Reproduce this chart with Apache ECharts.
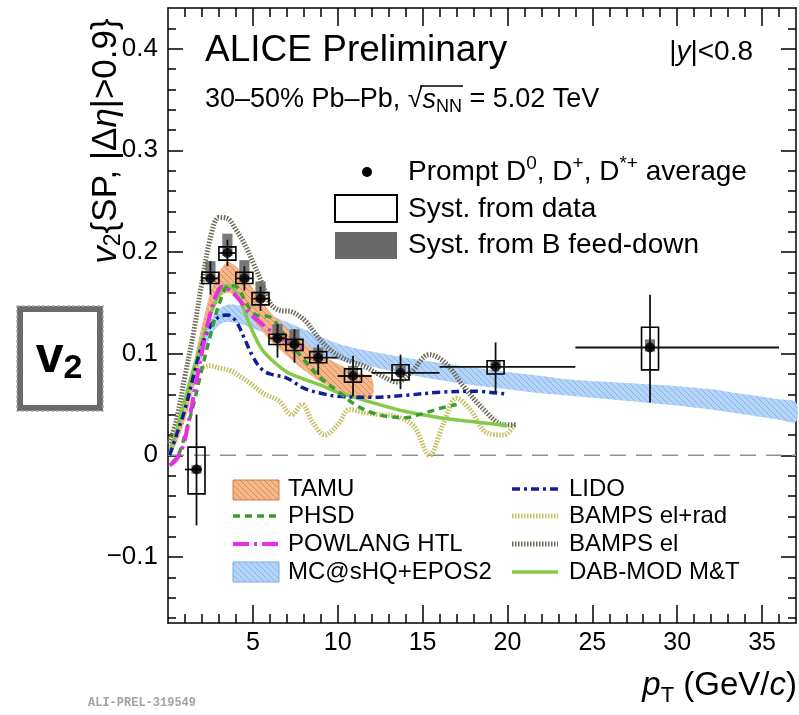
<!DOCTYPE html>
<html>
<head>
<meta charset="utf-8">
<script src="https://cdn.jsdelivr.net/npm/echarts@6/dist/echarts.min.js"></script>
<style>
  html, body { margin: 0; padding: 0; background: #fff; }
  #main { width: 799px; height: 715px; }
</style>
</head>
<body>
<div id="main"></div>
<script>
var ptData   = [1.68, 2.5, 3.5, 4.5, 5.45, 6.45, 7.45, 8.85, 10.9, 13.7, 19.3, 28.4];
var v2Data   = [-0.014, 0.174, 0.199, 0.174, 0.154, 0.115, 0.109, 0.096, 0.078, 0.081, 0.087, 0.106];
var ptLow    = [1, 2, 3, 4, 5, 6, 7, 8, 10, 12, 16, 24];
var ptHigh   = [2, 3, 4, 5, 6, 7, 8, 10, 12, 16, 24, 36];
var statLow  = [-0.069, 0.158, 0.186, 0.162, 0.142, 0.096, 0.091, 0.079, 0.058, 0.065, 0.062, 0.052];
var statHigh = [0.040, 0.191, 0.212, 0.186, 0.166, 0.129, 0.124, 0.109, 0.098, 0.099, 0.111, 0.158];
var systLow  = [-0.038, 0.169, 0.192, 0.169, 0.148, 0.109, 0.103, 0.091, 0.072, 0.074, 0.080, 0.084];
var systHigh = [0.008, 0.180, 0.205, 0.180, 0.160, 0.119, 0.114, 0.102, 0.085, 0.089, 0.093, 0.126];
var feedLow  = [-0.018, 0.171, 0.196, 0.171, 0.151, 0.112, 0.106, 0.093, 0.076, 0.079, 0.085, 0.102];
var feedHigh = [-0.010, 0.191, 0.218, 0.192, 0.171, 0.129, 0.124, 0.106, 0.088, 0.088, 0.093, 0.114];

// ---- model bands ----
var tamuPt = [0.1, 0.5, 1, 1.5, 2, 2.5, 3, 3.5, 4, 4.5, 5, 5.5, 6, 7, 8, 9, 10, 11, 12];
var tamuLo = [0.0, 0.012, 0.035, 0.068, 0.105, 0.138, 0.155, 0.160, 0.156, 0.146, 0.134, 0.123, 0.113, 0.098, 0.084, 0.072, 0.064, 0.058, 0.056];
var tamuHi = [0.010, 0.025, 0.055, 0.090, 0.128, 0.160, 0.180, 0.190, 0.186, 0.176, 0.164, 0.152, 0.141, 0.125, 0.111, 0.099, 0.090, 0.082, 0.076];

var mcPt = [0.1, 0.5, 1, 1.5, 2, 2.5, 3, 3.5, 4, 5, 6, 7, 8, 10, 12, 14, 16, 18, 20, 22, 24, 26, 28, 30, 32, 34, 36, 37];
var mcLo = [0.0, 0.012, 0.035, 0.065, 0.095, 0.117, 0.128, 0.131, 0.130, 0.125, 0.118, 0.110, 0.103, 0.094, 0.087, 0.080, 0.074, 0.069, 0.065, 0.061, 0.058, 0.055, 0.052, 0.049, 0.045, 0.040, 0.035, 0.033];
var mcHi = [0.010, 0.025, 0.052, 0.083, 0.112, 0.133, 0.144, 0.148, 0.148, 0.144, 0.138, 0.131, 0.124, 0.110, 0.102, 0.096, 0.091, 0.086, 0.082, 0.078, 0.074, 0.072, 0.070, 0.068, 0.065, 0.060, 0.055, 0.052];

// ---- model curves ----
var phsdPt = [0.2, 0.6, 1, 1.5, 2, 2.5, 3, 3.6, 4.1, 4.6, 5.2, 6, 7, 8, 9, 10, 11, 12, 13, 14, 15, 16, 17];
var phsdV  = [-0.008, 0.0, 0.020, 0.050, 0.085, 0.118, 0.148, 0.167, 0.165, 0.150, 0.138, 0.136, 0.115, 0.094, 0.076, 0.063, 0.050, 0.042, 0.038, 0.037, 0.041, 0.046, 0.050];

var powPt = [0.1, 0.5, 0.9, 1.3, 1.7, 2.1, 2.5, 2.9, 3.2, 3.6, 4.2, 4.8, 5.4, 6, 6.6, 7.2, 8];
var powV  = [-0.010, -0.004, 0.010, 0.040, 0.075, 0.110, 0.140, 0.160, 0.166, 0.163, 0.153, 0.140, 0.131, 0.123, 0.116, 0.110, 0.105];

var lidoPt = [0.1, 0.5, 1, 1.5, 2, 2.5, 3, 3.5, 4, 4.5, 5, 5.5, 6, 7, 8, 9, 10, 12, 14, 16, 18, 20];
var lidoV  = [0.0, 0.020, 0.045, 0.078, 0.108, 0.127, 0.136, 0.138, 0.132, 0.115, 0.097, 0.085, 0.080, 0.076, 0.066, 0.061, 0.058, 0.057, 0.059, 0.062, 0.063, 0.060];

var dabPt = [0.1, 0.5, 1, 1.5, 2, 2.5, 3, 3.4, 3.8, 4.3, 4.9, 5.5, 6.1, 7, 8, 9, 10, 11, 12, 14, 16, 18, 20];
var dabV  = [0.0, 0.025, 0.055, 0.085, 0.112, 0.138, 0.158, 0.167, 0.165, 0.150, 0.125, 0.105, 0.094, 0.082, 0.075, 0.069, 0.062, 0.057, 0.052, 0.043, 0.037, 0.033, 0.029];

var belPt = [0.1, 0.5, 1, 1.5, 2, 2.5, 3, 3.5, 4, 4.5, 5, 5.5, 6, 6.5, 7.3, 8.1, 8.9, 9.7, 10.5, 11.5, 12.5, 13.5, 14.3, 15.4, 16.4, 17.4, 18.6, 19.8, 20.5];
var belV  = [0.012, 0.035, 0.078, 0.120, 0.170, 0.214, 0.234, 0.233, 0.222, 0.208, 0.190, 0.171, 0.150, 0.143, 0.141, 0.132, 0.115, 0.102, 0.094, 0.088, 0.079, 0.072, 0.081, 0.099, 0.090, 0.068, 0.045, 0.030, 0.030];

var berPt = [0.1, 0.5, 1, 1.5, 2, 2.5, 3, 3.7, 4.3, 4.9, 5.7, 6.5, 7.3, 7.9, 8.5, 9.25, 10, 10.7, 11.5, 12.5, 13.5, 14.5, 15.4, 16.2, 17, 17.8, 18.8, 19.8, 20.4];
var berV  = [0.012, 0.030, 0.055, 0.075, 0.086, 0.088, 0.086, 0.083, 0.077, 0.070, 0.060, 0.054, 0.040, 0.050, 0.033, 0.020, 0.030, 0.045, 0.042, 0.040, 0.038, 0.028, 0.0, 0.030, 0.056, 0.045, 0.022, 0.020, 0.030];

// ---- axis ticks ----
var xMajor = [5, 10, 15, 20, 25, 30, 35];
var yMajor = [-0.1, 0, 0.1, 0.2, 0.3, 0.4];
var xMinor = [];
for (var i = 1; i <= 36; i++) { if (i % 5 !== 0) xMinor.push(i); }
var yMinor = [];
for (var k = -8; k <= 21; k++) { if (k % 5 !== 0) yMinor.push(+(k * 0.02).toFixed(2)); }

var FONT = '"Liberation Sans", Arial, Helvetica, sans-serif';
var BOX_HALF = 0.5;    // half width of syst. boxes (GeV/c)
var FEED_HALF = 0.3;

function hatch(bg, fg) {
  var c = document.createElement('canvas');
  c.width = 6; c.height = 6;
  var g = c.getContext('2d');
  g.fillStyle = bg; g.fillRect(0, 0, 6, 6);
  g.strokeStyle = fg; g.lineWidth = 1;
  g.beginPath();
  g.moveTo(-3, 3); g.lineTo(3, 9);
  g.moveTo(0, 0); g.lineTo(6, 6);
  g.moveTo(3, -3); g.lineTo(9, 3);
  g.stroke();
  return c;
}
var tamuFill = { image: hatch('#f2b88c', '#e38a55'), repeat: 'repeat' };
var mcFill = { image: hatch('#b4d3f7', '#86b6ee'), repeat: 'repeat' };

var chart = echarts.init(document.getElementById('main'));

function bandSeries(xs, lo, hi, fill, z) {
  return {
    type: 'custom', silent: true, z: z,
    data: [[xs[0], lo[0]]],
    renderItem: function (params, api) {
      var pts = [];
      for (var j = 0; j < xs.length; j++) pts.push(api.coord([xs[j], lo[j]]));
      for (var j2 = xs.length - 1; j2 >= 0; j2--) pts.push(api.coord([xs[j2], hi[j2]]));
      return { type: 'polygon', shape: { points: pts, smooth: 0.3 }, style: { fill: fill } };
    }
  };
}

function curve(name, xs, ys, color, width, dash, z) {
  return {
    name: name, type: 'line', showSymbol: false, smooth: 0.35, z: z, silent: true,
    data: xs.map(function (x, j) { return [x, ys[j]]; }),
    lineStyle: { color: color, width: width, type: dash }
  };
}

var idxData = ptData.map(function (p, j) { return [p, v2Data[j], j]; });

function xAx(grid, pos, ticks, len, labels, line) {
  return {
    type: 'value', min: 0, max: 37, gridIndex: grid, position: pos,
    splitLine: { show: false },
    axisLine: { show: line, onZero: false, lineStyle: { color: '#000', width: 1.5 } },
    axisTick: { inside: true, length: len, customValues: ticks, lineStyle: { color: '#000', width: 1.5 } },
    axisLabel: labels ? { customValues: ticks, fontSize: 25, color: '#000', fontFamily: FONT, margin: 8 } : { show: false }
  };
}
function yAx(grid, pos, ticks, len, labels, line) {
  return {
    type: 'value', min: -0.165, max: 0.44, gridIndex: grid, position: pos,
    splitLine: { show: false },
    axisLine: { show: line, onZero: false, lineStyle: { color: '#000', width: 1.5 } },
    axisTick: { inside: true, length: len, customValues: ticks, lineStyle: { color: '#000', width: 1.5 } },
    axisLabel: labels ? {
      customValues: ticks, fontSize: 26, color: '#000', fontFamily: FONT, margin: 10,
      formatter: function (v) { return v < 0 ? '\u2212' + (-v) : String(v); }
    } : { show: false }
  };
}

function label(x, y, text, size) {
  return { type: 'text', x: x, y: y, z: 20,
    style: { text: text, verticalAlign: 'middle', fontFamily: FONT, fontSize: size, fill: '#000' } };
}

var option = {
  animation: false,
  backgroundColor: '#fff',
  grid: [
    { left: 168, right: 3, top: 8, bottom: 92 },
    { left: 168, right: 3, top: 8, bottom: 92 }
  ],
  xAxis: [
    xAx(0, 'bottom', xMajor, 18, true, true),
    xAx(0, 'top', xMajor, 18, false, true),
    xAx(1, 'bottom', xMinor, 9, false, false),
    xAx(1, 'top', xMinor, 9, false, false)
  ],
  yAxis: [
    yAx(0, 'left', yMajor, 15, true, true),
    yAx(0, 'right', yMajor, 15, false, true),
    yAx(1, 'left', yMinor, 8, false, false),
    yAx(1, 'right', yMinor, 8, false, false)
  ],
  series: [
    bandSeries(mcPt, mcLo, mcHi, mcFill, 1),
    bandSeries(tamuPt, tamuLo, tamuHi, tamuFill, 2),
    {
      type: 'line', silent: true, z: 2, showSymbol: false,
      data: [[0, 0], [37, 0]],
      lineStyle: { color: '#8f8f8f', width: 1.6, type: [16, 10] }
    },
    curve('BAMPS el+rad', berPt, berV, '#c4bf5f', 5, [1.5, 1.5], 3),
    curve('BAMPS el', belPt, belV, '#6d6b58', 5, [1.5, 1.5], 3),
    curve('DAB-MOD M&T', dabPt, dabV, '#86c84a', 3.5, 'solid', 4),
    curve('LIDO', lidoPt, lidoV, '#10209a', 3.5, [8, 4, 3, 4], 4),
    curve('PHSD', phsdPt, phsdV, '#3c9c32', 3.5, [7, 5], 4),
    curve('POWLANG HTL', powPt, powV, '#e62ee6', 4, [16, 5, 3, 5], 4),
    {
      type: 'custom', z: 6, silent: true, data: idxData,
      renderItem: function (params, api) {
        var j = api.value(2);
        var a = api.coord([ptData[j] - FEED_HALF, feedHigh[j]]);
        var b = api.coord([ptData[j] + FEED_HALF, feedLow[j]]);
        return { type: 'rect', shape: { x: a[0], y: a[1], width: b[0] - a[0], height: b[1] - a[1] },
                 style: { fill: '#6a6a6a', opacity: 0.9 } };
      }
    },
    {
      type: 'custom', z: 7, silent: true, data: idxData,
      renderItem: function (params, api) {
        var j = api.value(2);
        var a = api.coord([ptData[j] - BOX_HALF, systHigh[j]]);
        var b = api.coord([ptData[j] + BOX_HALF, systLow[j]]);
        return { type: 'rect', shape: { x: a[0], y: a[1], width: b[0] - a[0], height: b[1] - a[1] },
                 style: { fill: 'none', stroke: '#000', lineWidth: 1.6 } };
      }
    },
    {
      type: 'custom', z: 8, silent: true, data: idxData,
      renderItem: function (params, api) {
        var j = api.value(2);
        var t = api.coord([ptData[j], statHigh[j]]);
        var d = api.coord([ptData[j], statLow[j]]);
        var l = api.coord([ptLow[j], v2Data[j]]);
        var r = api.coord([ptHigh[j], v2Data[j]]);
        return { type: 'group', children: [
          { type: 'line', shape: { x1: t[0], y1: t[1], x2: d[0], y2: d[1] }, style: { stroke: '#111', lineWidth: 1.8 } },
          { type: 'line', shape: { x1: l[0], y1: l[1], x2: r[0], y2: r[1] }, style: { stroke: '#111', lineWidth: 1.8 } }
        ] };
      }
    },
    {
      type: 'scatter', z: 9, silent: true, symbol: 'circle', symbolSize: 10,
      itemStyle: { color: '#000' },
      data: ptData.map(function (p, j) { return [p, v2Data[j]]; })
    }
  ],
  graphic: [
    // y axis title
    { type: 'text', x: 106, y: 141, rotation: Math.PI / 2, z: 20,
      style: { text: '{i|v}{s|2}{SP, |Δ{i|η}|>0.9}', align: 'center', verticalAlign: 'middle',
        fontFamily: FONT, fontSize: 35, fill: '#000',
        rich: {
          i: { fontFamily: FONT, fontSize: 35, fontStyle: 'italic', fill: '#000' },
          s: { fontFamily: FONT, fontSize: 23, fill: '#000', padding: [16, 0, 0, 0] }
        } } },
    // x axis title
    { type: 'text', x: 797, y: 686, z: 20,
      style: { text: '{i|p}{s|T} (GeV/{i|c})', align: 'right', verticalAlign: 'middle',
        fontFamily: FONT, fontSize: 33, fill: '#000',
        rich: {
          i: { fontFamily: FONT, fontSize: 33, fontStyle: 'italic', fill: '#000' },
          s: { fontFamily: FONT, fontSize: 22, fill: '#000', padding: [20, 0, 0, 0] }
        } } },
    // header texts
    label(205, 51, 'ALICE Preliminary', 37),
    { type: 'text', x: 753, y: 52, z: 20,
      style: { text: '|{i|y}|<0.8', align: 'right', verticalAlign: 'middle', fontFamily: FONT, fontSize: 28, fill: '#000',
        rich: { i: { fontFamily: FONT, fontSize: 28, fontStyle: 'italic', fill: '#000' } } } },
    { type: 'text', x: 205, y: 100, z: 20,
      style: { text: '30–50% Pb–Pb, √{i|s}{s|NN} = 5.02 TeV', verticalAlign: 'middle', fontFamily: FONT, fontSize: 27, fill: '#000',
        rich: {
          i: { fontFamily: FONT, fontSize: 27, fontStyle: 'italic', fill: '#000' },
          s: { fontFamily: FONT, fontSize: 18, fill: '#000', padding: [15, 0, 0, 0] }
        } } },
    { type: 'line', z: 20, shape: { x1: 420, y1: 86, x2: 463, y2: 86 }, style: { stroke: '#000', lineWidth: 1.3 } },
    // top legend
    { type: 'circle', z: 20, shape: { cx: 367, cy: 172, r: 5 }, style: { fill: '#000' } },
    { type: 'text', x: 408, y: 172, z: 20,
      style: { text: 'Prompt D{p|0}, D{p|+}, D{p|*+} average', verticalAlign: 'middle', fontFamily: FONT, fontSize: 28, fill: '#000',
        rich: { p: { fontFamily: FONT, fontSize: 19, fill: '#000', padding: [0, 0, 17, 0] } } } },
    { type: 'rect', z: 20, shape: { x: 335, y: 195, width: 62, height: 27 }, style: { fill: '#fff', stroke: '#000', lineWidth: 2 } },
    label(408, 209, 'Syst. from data', 28),
    { type: 'rect', z: 20, shape: { x: 335, y: 232, width: 62, height: 27 }, style: { fill: '#6a6a6a' } },
    label(408, 245, 'Syst. from B feed-down', 28),
    // bottom legend, column 1
    { type: 'rect', z: 20, shape: { x: 233, y: 480, width: 46, height: 20 }, style: { fill: tamuFill, stroke: '#d67a3c', lineWidth: 1 } },
    label(288, 489, 'TAMU', 24),
    { type: 'line', z: 20, shape: { x1: 233, y1: 516, x2: 279, y2: 516 }, style: { stroke: '#3c9c32', lineWidth: 3.5, lineDash: [7, 5] } },
    label(288, 516, 'PHSD', 24),
    { type: 'line', z: 20, shape: { x1: 233, y1: 544, x2: 279, y2: 544 }, style: { stroke: '#e62ee6', lineWidth: 4, lineDash: [16, 5, 3, 5] } },
    label(288, 544, 'POWLANG HTL', 24),
    { type: 'rect', z: 20, shape: { x: 233, y: 562, width: 46, height: 20 }, style: { fill: mcFill, stroke: '#7aa8e6', lineWidth: 1 } },
    label(288, 572, 'MC@sHQ+EPOS2', 24),
    // bottom legend, column 2
    { type: 'line', z: 20, shape: { x1: 512, y1: 489, x2: 558, y2: 489 }, style: { stroke: '#10209a', lineWidth: 3.5, lineDash: [8, 4, 3, 4] } },
    label(569, 489, 'LIDO', 24),
    { type: 'line', z: 20, shape: { x1: 512, y1: 516, x2: 558, y2: 516 }, style: { stroke: '#c4bf5f', lineWidth: 5, lineDash: [1.5, 1.5] } },
    label(569, 516, 'BAMPS el+rad', 24),
    { type: 'line', z: 20, shape: { x1: 512, y1: 544, x2: 558, y2: 544 }, style: { stroke: '#6d6b58', lineWidth: 5, lineDash: [1.5, 1.5] } },
    label(569, 544, 'BAMPS el', 24),
    { type: 'line', z: 20, shape: { x1: 512, y1: 572, x2: 558, y2: 572 }, style: { stroke: '#86c84a', lineWidth: 3.5 } },
    label(569, 572, 'DAB-MOD M&T', 24),
    // v2 badge
    { type: 'rect', z: 20, shape: { x: 20, y: 309, width: 80, height: 99 }, style: { fill: '#fff', stroke: '#6a6a6a', lineWidth: 6 } },
    { type: 'rect', z: 21, shape: { x: 17, y: 306, width: 86, height: 105 }, style: { fill: 'none', stroke: '#a8a8a8', lineWidth: 1.5, lineDash: [3, 2] } },
    { type: 'text', x: 59, y: 358, z: 22,
      style: { text: '{v|v}{s|2}', align: 'center', verticalAlign: 'middle',
        rich: {
          v: { fontFamily: FONT, fontSize: 50, fontWeight: 'bold', fill: '#000' },
          s: { fontFamily: FONT, fontSize: 34, fontWeight: 'bold', fill: '#000', padding: [22, 0, 0, 0] }
        } } },
    // watermark
    { type: 'text', x: 88, y: 703, z: 20,
      style: { text: 'ALI-PREL-319549', verticalAlign: 'middle', fontFamily: '"Liberation Mono", "DejaVu Sans Mono", monospace',
        fontSize: 12, fontWeight: 'bold', fill: '#a3a3a3' } }
  ]
};

chart.setOption(option);
</script>
</body>
</html>
